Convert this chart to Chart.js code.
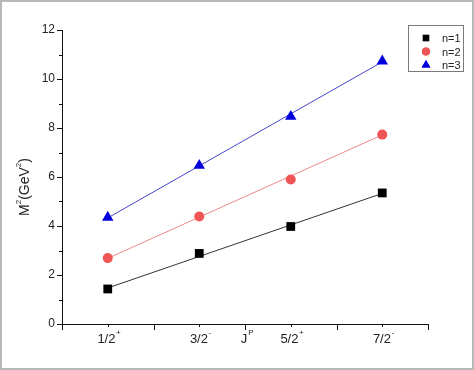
<!DOCTYPE html>
<html><head><meta charset="utf-8">
<script src="https://cdn.jsdelivr.net/npm/chart.js@4.4.1/dist/chart.umd.min.js"></script>
<style>
html,body{margin:0;padding:0;background:#fff;}
#wrap{width:474px;height:370px;box-sizing:border-box;border:2px solid #b8b8b8;background:#fff;}
canvas{display:block;}
</style></head><body>
<div id="wrap"><canvas id="c" width="470" height="366"></canvas></div>
<script>
const categories = ['1/2', '3/2', '5/2', '7/2'];
const parities = ['+', '-', '+', '-'];
const xPositions = [1, 2, 3, 4];
const seriesNames = ['n=1', 'n=2', 'n=3'];
const n1 = [1.43, 2.88, 3.98, 5.35];
const n2 = [2.69, 4.39, 5.90, 7.73];
const n3 = [4.35, 6.47, 8.47, 10.73];
const fit1 = [1.47, 5.33];
const fit2 = [2.68, 7.72];
const fit3 = [4.33, 10.70];
const yTicks = [0, 2, 4, 6, 8, 10, 12];

const pts = v => v.map((y, i) => ({x: xPositions[i], y}));
const fitPts = f => [{x: xPositions[0], y: f[0]}, {x: xPositions[xPositions.length-1], y: f[1]}];

const markerStyles = [
  {pointStyle: 'rect', color: '#000000', r: 6.2, lr: 4.5},
  {pointStyle: 'circle', color: '#f05555', r: 5.0, lr: 4},
  {pointStyle: 'triangle', color: '#0000dd', r: 6.6, lr: 5}
];
const lineColors = ['#333333', '#f08888', '#4545cc'];
const values = [n1, n2, n3];
const fits = [fit1, fit2, fit3];

const datasets = [];
fits.forEach((f, i) => datasets.push({
  label: 'fit' + (i+1), data: fitPts(f), showLine: true, borderColor: lineColors[i],
  borderWidth: 1, pointRadius: 0, fill: false, order: 2
}));
values.forEach((v, i) => datasets.push({
  label: seriesNames[i], data: pts(v), showLine: false,
  pointStyle: markerStyles[i].pointStyle, pointRadius: markerStyles[i].r,
  pointBackgroundColor: markerStyles[i].color, pointBorderColor: markerStyles[i].color,
  pointBorderWidth: 0, order: 1
}));

const FONT = 'Liberation Sans, Arial, sans-serif';

const decor = {
  id: 'decor',
  afterDraw(chart) {
    const ctx = chart.ctx;
    const xs = chart.scales.x, ys = chart.scales.y;
    const ca = chart.chartArea;
    ctx.save();
    ctx.strokeStyle = '#111';
    ctx.lineWidth = 1;
    ctx.beginPath();
    ctx.moveTo(ca.left + 0.5, ca.top);
    ctx.lineTo(ca.left + 0.5, ca.bottom + 0.5);
    ctx.lineTo(ca.right, ca.bottom + 0.5);
    ctx.stroke();
    for (let v = 0; v <= 12; v += 1) {
      const y = Math.round(ys.getPixelForValue(v)) + 0.5;
      const len = v % 2 === 0 ? 5 : 3;
      ctx.beginPath(); ctx.moveTo(ca.left, y); ctx.lineTo(ca.left - len, y); ctx.stroke();
    }
    for (let v = 0.5; v <= 4.5001; v += 0.5) {
      const x = Math.round(xs.getPixelForValue(v)) + 0.5;
      const major = Math.abs(v - Math.round(v)) > 0.01;
      const len = major ? 6 : 3;
      ctx.beginPath(); ctx.moveTo(x, ca.bottom); ctx.lineTo(x, ca.bottom + len); ctx.stroke();
    }
    ctx.fillStyle = '#222';
    ctx.font = '12px ' + FONT;
    ctx.textAlign = 'right'; ctx.textBaseline = 'middle';
    yTicks.forEach(v => ctx.fillText(String(v), ca.left - 7, ys.getPixelForValue(v)));
    const yl = ca.bottom + 15;
    categories.forEach((c, i) => {
      const x = xs.getPixelForValue(xPositions[i]);
      ctx.font = '13px ' + FONT;
      const w = ctx.measureText(c).width;
      ctx.font = '8px ' + FONT;
      const ws = ctx.measureText(parities[i]).width;
      const x0 = x - (w + ws) / 2 + 1;
      ctx.textAlign = 'left'; ctx.textBaseline = 'middle';
      ctx.font = '13px ' + FONT;
      ctx.fillText(c, x0, yl);
      ctx.font = '8px ' + FONT;
      ctx.fillText(parities[i], x0 + w + 0.5, yl - 6);
    });
    {
      const x = xs.getPixelForValue(2.5);
      ctx.font = '13px ' + FONT;
      const w = ctx.measureText('J').width;
      ctx.textAlign = 'left';
      ctx.fillText('J', x - w / 2 - 1, yl);
      ctx.font = '8px ' + FONT;
      ctx.fillText('P', x + w / 2, yl - 6);
    }
    {
      ctx.translate(23, 185);
      ctx.rotate(-Math.PI / 2);
      const parts = [['M', 0], ['2', 1], ['(GeV', 0], ['2', 1], [')', 0]];
      let total = 0;
      parts.forEach(p => { ctx.font = (p[1] ? '8px ' : '14px ') + FONT; total += ctx.measureText(p[0]).width; });
      let xx = -total / 2;
      ctx.textAlign = 'left'; ctx.textBaseline = 'middle';
      parts.forEach(p => {
        ctx.font = (p[1] ? '8px ' : '14px ') + FONT;
        ctx.fillText(p[0], xx, p[1] ? -6 : 0);
        xx += ctx.measureText(p[0]).width;
      });
    }
    ctx.restore();
    ctx.save();
    const lx = 406, ly = 23, lw = 55, lh = 46;
    ctx.strokeStyle = '#7a7a7a'; ctx.lineWidth = 1;
    ctx.fillStyle = '#fff';
    ctx.fillRect(lx + 0.5, ly + 0.5, lw, lh);
    ctx.strokeRect(lx + 0.5, ly + 0.5, lw, lh);
    seriesNames.forEach((name, i) => {
      const yy = ly + 13 + i * 13.5;
      const ms = markerStyles[i];
      ctx.fillStyle = ms.color; ctx.strokeStyle = ms.color;
      Chart.helpers.drawPoint(ctx, {pointStyle: ms.pointStyle, radius: ms.lr, rotation: 0, borderWidth: 0}, lx + 18, yy);
      ctx.fill();
      ctx.fillStyle = '#222';
      ctx.font = '11px ' + FONT;
      ctx.textAlign = 'left'; ctx.textBaseline = 'middle';
      ctx.fillText(name, lx + 34, yy + 1);
    });
    ctx.restore();
  }
};

new Chart(document.getElementById('c'), {
  type: 'scatter',
  data: {datasets},
  options: {
    responsive: false,
    animation: false,
    events: [],
    layout: {padding: {top: 28, right: 44, left: 0, bottom: 0}},
    plugins: {legend: {display: false}, tooltip: {enabled: false}},
    scales: {
      x: {
        type: 'linear', min: 0.5, max: 4.5,
        grid: {display: false}, border: {display: false},
        ticks: {display: false},
        afterFit: s => { s.height = 44; }
      },
      y: {
        type: 'linear', min: 0, max: 12,
        grid: {display: false}, border: {display: false},
        ticks: {display: false, stepSize: 2},
        afterFit: s => { s.width = 60; }
      }
    }
  },
  plugins: [decor]
});
</script>
</body></html>
